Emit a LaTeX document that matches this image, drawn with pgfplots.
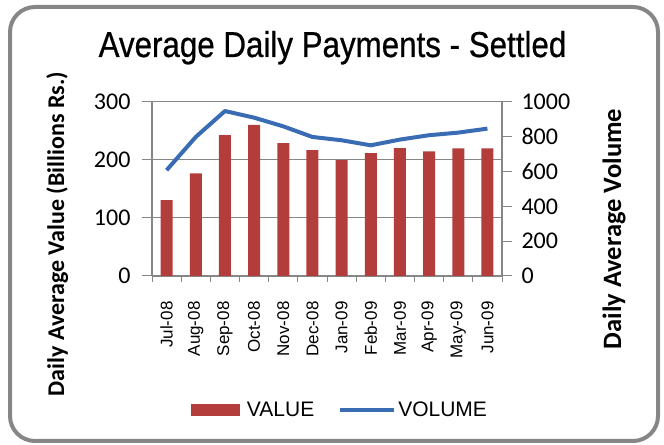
\documentclass[border=0pt]{standalone}
\usepackage{fontspec}
\setmainfont{Carlito}
\newfontfamily\arialf{Liberation Sans}
\newfontfamily\titlef[FakeStretch=0.87,FakeBold=0.6]{Liberation Sans}
\usepackage{pgfplots}
\pgfplotsset{compat=1.18}
\definecolor{barred}{RGB}{179,61,59}
\definecolor{lineblue}{RGB}{58,108,180}
\definecolor{axgray}{RGB}{134,134,134}
\begin{document}
\begin{tikzpicture}[x=1bp,y=1bp]
\useasboundingbox (0,0) rectangle (664,445);
\draw[axgray, line width=4bp, rounded corners=25bp] (10,4) rectangle (658,438);
\node[font=\titlef\fontsize{36bp}{40bp}\selectfont, anchor=base, inner sep=0pt] at (332.5,388) {Average Daily Payments - Settled};
\begin{axis}[
  at={(152bp,169bp)}, anchor=south west, scale only axis,
  width=350bp, height=174bp,
  xmin=-0.5, xmax=11.5, ymin=0, ymax=300,
  ytick={0,100,200,300},
  xtick={0,...,11},
  xticklabels={Jul-08,Aug-08,Sep-08,Oct-08,Nov-08,Dec-08,Jan-09,Feb-09,Mar-09,Apr-09,May-09,Jun-09},
  minor xtick={-0.5,0.5,...,11.5},
  axis x line*=bottom, axis y line*=left,
  tick align=outside,
  major tick length=10bp,
  minor tick length=6bp,
  every tick/.style={axgray, line width=1bp},
  major x tick style={draw=none},
  minor tick style={axgray, line width=1bp},
  axis line style={axgray, line width=1.2bp},
  ymajorgrids, major grid style={axgray, line width=1bp},
  /pgf/number format/assume math mode=true,
  /pgf/number format/1000 sep={},
  yticklabel style={font=\fontsize{24bp}{28bp}\selectfont, xshift=-8bp},
  xticklabel style={font=\arialf\fontsize{17bp}{20bp}\selectfont, rotate=90, anchor=east},
  xticklabel shift=12bp,
  ylabel={Daily Average Value (Billions Rs.)},
  ylabel style={at={(axis description cs:-0.271,0.241)}, anchor=center, rotate=0, font=\bfseries\fontsize{24bp}{28bp}\selectfont},
]
\addplot[ybar, bar width=12bp, fill=barred, draw=none] coordinates {
(0,130.8) (1,177) (2,242.7) (3,260.5) (4,229) (5,217) (6,199.7) (7,211.7) (8,220.3) (9,215) (10,220) (11,220)};
\end{axis}
\begin{axis}[
  at={(152bp,169bp)}, anchor=south west, scale only axis,
  width=350bp, height=174bp,
  xmin=-0.5, xmax=11.5, ymin=0, ymax=1000,
  ytick={0,200,...,1000},
  axis x line=none, axis y line*=right,
  tick align=outside,
  major tick length=10bp,
  every tick/.style={axgray, line width=1bp},
  axis line style={axgray, line width=1.2bp},
  /pgf/number format/assume math mode=true,
  /pgf/number format/1000 sep={},
  yticklabel style={font=\fontsize{24bp}{28bp}\selectfont, xshift=6bp},
  ylabel={Daily Average Volume},
  ylabel style={at={(axis description cs:1.32,0.27)}, anchor=center, rotate=0, font=\bfseries\fontsize{26.5bp}{30bp}\selectfont},
  legend style={at={(axis description cs:0.537,-0.77)}, anchor=center, draw=none, fill=none,
    font=\arialf\fontsize{21bp}{24bp}\selectfont,
    /tikz/every even column/.append style={column sep=22bp}},
  legend columns=2,
]
\addlegendimage{legend image code/.code={\fill[barred, draw=none] (0bp,-6bp) rectangle (49bp,6bp); \path[draw=none, fill=none] (0bp,0bp) -- (54bp,0bp);}}
\addlegendentry{VALUE}
\addplot[lineblue, line width=4bp, line join=round, mark=none,
  legend image code/.code={\draw[lineblue, line width=4bp] (0bp,0bp) -- (54bp,0bp);}] coordinates {
(0,608) (1,799) (2,948) (3,910) (4,860) (5,799) (6,780) (7,751) (8,784) (9,809) (10,824) (11,847)};
\addlegendentry{VOLUME}
\end{axis}
\end{tikzpicture}
\end{document}
